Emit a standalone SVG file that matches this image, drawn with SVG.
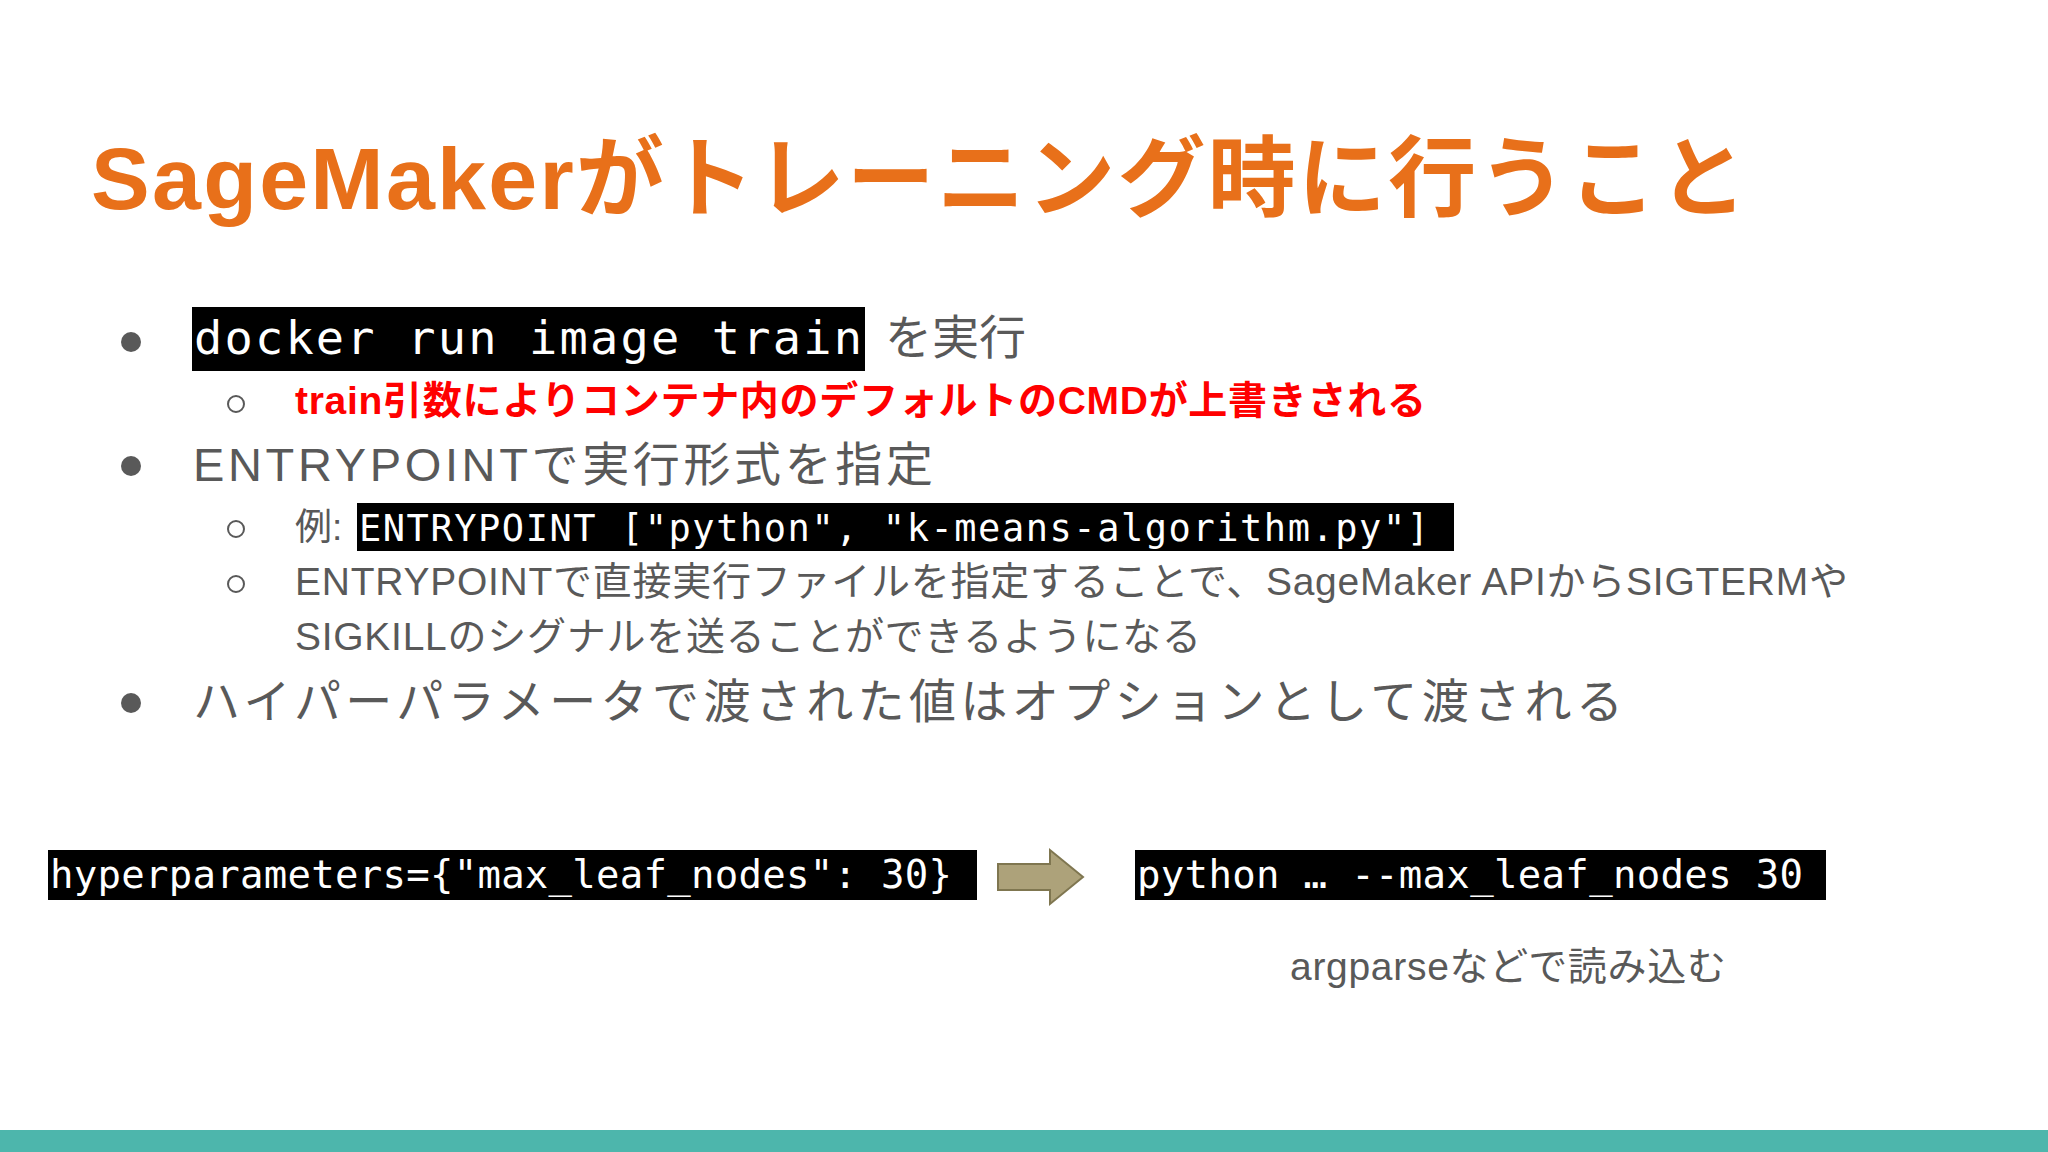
<svg xmlns="http://www.w3.org/2000/svg" width="2048" height="1152" viewBox="0 0 2048 1152">
<style>
.jp{font-family:"Liberation Sans","Noto Sans CJK JP",sans-serif;fill:#595959}
.mono{font-family:"DejaVu Sans Mono","Liberation Mono",monospace;fill:#fff}
.dot{fill:#595959}
.circ{fill:none;stroke:#595959;stroke-width:2}
</style>
<rect width="2048" height="1152" fill="#fff"/>
<text x="91" y="209" font-size="88" font-weight="bold" fill="#E8701A" font-family="'Liberation Sans','Noto Sans CJK JP',sans-serif" textLength="1656">SageMakerがトレーニング時に行うこと</text>
<g id="b1">
<circle class="dot" cx="131" cy="342" r="10"/>
<rect x="192" y="307" width="673" height="64" fill="#000"/>
<text class="mono" x="194" y="354" font-size="47" textLength="668">docker run image train</text>
<text class="jp" x="885" y="354" font-size="47">を実行</text>
</g>
<g id="s1">
<circle class="circ" cx="236" cy="404" r="8"/>
<text x="295" y="414" font-size="39" font-weight="bold" fill="#FF0000" font-family="'Liberation Sans','Noto Sans CJK JP',sans-serif" textLength="1131">train引数によりコンテナ内のデフォルトのCMDが上書きされる</text>
</g>
<g id="b2">
<circle class="dot" cx="131" cy="466" r="10"/>
<text class="jp" x="193" y="481" font-size="47" textLength="740">ENTRYPOINTで実行形式を指定</text>
</g>
<g id="s2">
<circle class="circ" cx="236" cy="529" r="8"/>
<text class="jp" x="295" y="540" font-size="37">例:</text>
<rect x="357" y="503" width="1097" height="48" fill="#000"/>
<text class="mono" x="359" y="541" font-size="37" textLength="1070">ENTRYPOINT ["python", "k-means-algorithm.py"]</text>
</g>
<g id="s3">
<circle class="circ" cx="236" cy="584" r="8"/>
<text class="jp" x="295" y="595" font-size="39" textLength="1553">ENTRYPOINTで直接実行ファイルを指定することで、SageMaker APIからSIGTERMや</text>
<text class="jp" x="295" y="650" font-size="39" textLength="906">SIGKILLのシグナルを送ることができるようになる</text>
</g>
<g id="b3">
<circle class="dot" cx="131" cy="703" r="10"/>
<text class="jp" x="193" y="718" font-size="47" textLength="1430">ハイパーパラメータで渡された値はオプションとして渡される</text>
</g>
<g id="n1">
<rect x="48" y="850" width="929" height="50" fill="#000"/>
<text class="mono" x="50" y="888" font-size="39" textLength="902">hyperparameters={"max_leaf_nodes": 30}</text>
</g>
<g id="connectors">
<polygon points="998,864 1050,864 1050,850 1083,877 1050,904 1050,890 998,890" fill="#ADA27A" stroke="#7F7650" stroke-width="2"/>
</g>
<g id="n2">
<rect x="1135" y="850" width="691" height="50" fill="#000"/>
<text class="mono" x="1137" y="888" font-size="39" textLength="666">python … --max_leaf_nodes 30</text>
</g>
<text class="jp" x="1290" y="980" font-size="39" textLength="436">argparseなどで読み込む</text>
<rect x="0" y="1130" width="2048" height="22" fill="#4DB6AC"/>
</svg>
